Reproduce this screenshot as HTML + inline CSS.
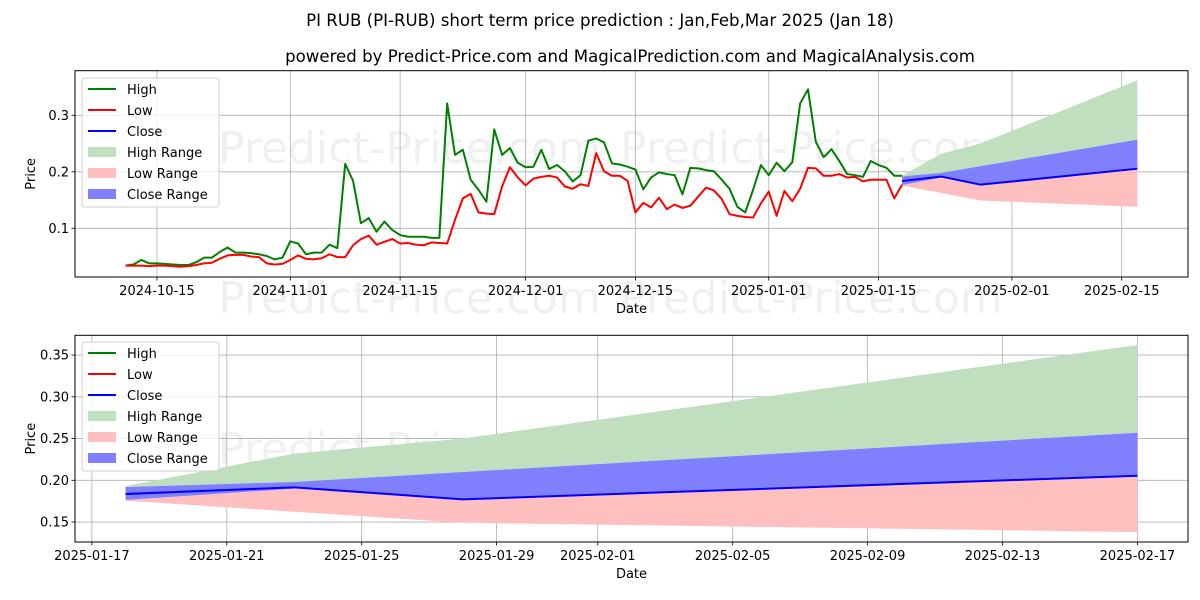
<!DOCTYPE html>
<html><head><meta charset="utf-8">
<style>
html,body{margin:0;padding:0;background:#fff;}
svg{display:block;font-family:"DejaVu Sans","Liberation Sans",sans-serif;}
</style></head>
<body>
<svg id="chart" width="1200" height="600" viewBox="0 0 1200 600" xmlns="http://www.w3.org/2000/svg">
<rect width="1200" height="600" fill="#fff"/>
<text x="600" y="26" text-anchor="middle" font-size="16.6">PI RUB (PI-RUB) short term price prediction : Jan,Feb,Mar 2025 (Jan 18)</text>
<text x="630" y="62" text-anchor="middle" font-size="16.6">powered by Predict-Price.com and MagicalPrediction.com and MagicalAnalysis.com</text>
<g id="top"></g>
<g id="bot"></g>
</svg>
<script>
const histStart = '2024-10-11';
const histHigh = [.034,.036,.044,.038,.038,.037,.036,.035,.035,.040,.048,.048,.058,.066,.057,.057,.056,.054,.051,.045,.048,.077,.073,.054,.057,.057,.071,.065,.214,.184,.109,.118,.094,.112,.097,.088,.085,
.085,.085,.083,.083,.321,.230,.239,.186,.168,.147,.275,.230,.242,.216,.208,.209,.239,.205,.212,.201,.183,.194,.255,.259,.252,.215,.213,.209,.204,.169,.190,.199,.196,.194,.160,
.207,.206,.203,.201,.186,.170,.138,.128,.168,.212,.194,.216,.201,.217,.321,.346,.253,.226,.240,.219,.196,.194,.191,.219,.212,.207,.193,.193];
const histLow = [.034,.034,.034,.033,.034,.034,.033,.032,.033,.035,.038,.039,.046,.052,.053,.053,.050,.049,.038,.036,.037,.044,.052,.046,.045,.047,.054,.049,.049,.070,.081,.087,.071,.076,.081,.073,.074,
.071,.070,.075,.074,.073,.115,.153,.161,.128,.126,.125,.174,.208,.190,.176,.188,.191,.193,.190,.174,.170,.178,.175,.233,.201,.193,.193,.184,.128,.145,.137,.154,.134,.142,.136,
.140,.156,.172,.167,.152,.125,.122,.120,.119,.144,.165,.122,.166,.148,.170,.207,.206,.193,.193,.196,.190,.191,.183,.186,.186,.186,.153,.177];
const fcDates = ['2025-01-18','2025-01-23','2025-01-28','2025-02-17'];
const fcClose = [.1836,.1916,.1772,.2055];
const fcHighUp = [.193,.232,.250,.362];
const fcCloseUp = [.192,.198,.210,.257];
const fcCloseLo = [.1764,.190,.1765,.2045];
const fcLowLo = [.1756,.1624,.1492,.138];
const topYTicks = [0.1,0.2,0.3];
const topXTicks = ['2024-10-15','2024-11-01','2024-11-15','2024-12-01','2024-12-15','2025-01-01','2025-01-15','2025-02-01','2025-02-15'];
const botYTicks = [0.15,0.20,0.25,0.30,0.35];
const botXTicks = ['2025-01-17','2025-01-21','2025-01-25','2025-01-29','2025-02-01','2025-02-05','2025-02-09','2025-02-13','2025-02-17'];

const NS='http://www.w3.org/2000/svg';
const DAY=86400000;
const T=s=>Date.parse(s+'T00:00:00Z');
function mk(parent,tag,attrs){const e=document.createElementNS(NS,tag);for(const k in attrs)e.setAttribute(k,attrs[k]);parent.appendChild(e);return e;}
const histDates = histHigh.map((_,i)=>T(histStart)+i*DAY);

function panel(g,cfg){
  const {L,R,Tp,B,x,y}=cfg;
  cfg.marks.forEach(m=>{const t=mk(g,'text',{x:m[0],y:m[1],'font-size':44,fill:'#000','fill-opacity':0.06});t.textContent='Predict-Price.com';
    
    });
  cfg.xt.forEach(d=>{const X=x(T(d));const l=mk(g,'line',{x1:X,x2:X,y1:Tp,y2:B,stroke:'#b0b0b0','stroke-width':0.8});
    
    
    mk(g,'line',{x1:X,x2:X,y1:B,y2:B+3.5,stroke:'#000','stroke-width':0.8});
    const t=mk(g,'text',{x:X,y:B+18,'text-anchor':'middle','font-size':13});t.textContent=d;
    
    });
  cfg.yt.forEach(v=>{const Y=y(v);const l=mk(g,'line',{x1:L,x2:R,y1:Y,y2:Y,stroke:'#b0b0b0','stroke-width':0.8});
    
    
    mk(g,'line',{x1:L-3.5,x2:L,y1:Y,y2:Y,stroke:'#000','stroke-width':0.8});
    const t=mk(g,'text',{x:L-6,y:Y+4.5,'text-anchor':'end','font-size':13});t.textContent=cfg.fmt(v);
    
    });
  const band=(up,lo,col,name)=>{let d='';fcDates.forEach((s,i)=>{d+=(i?'L':'M')+x(T(s))+','+y(up[i]);});
    for(let i=fcDates.length-1;i>=0;i--)d+='L'+x(T(fcDates[i]))+','+y(lo[i]);
    const p=mk(g,'path',{d:d+'Z',fill:col});
    
    };
  band(fcHighUp,fcCloseUp,'#bfdfbf','high-range-band');
  band(fcCloseLo,fcLowLo,'#ffbfbf','low-range-band');
  band(fcCloseUp,fcCloseLo,'#8080ff','close-range-band');
  const line=(dates,vals,col,name)=>{const pts=vals.map((v,i)=>x(dates[i])+','+y(v)).join(' ');
    const p=mk(g,'polyline',{points:pts,fill:'none',stroke:col,'stroke-width':2,'stroke-linejoin':'round'});
    
    };
  if(cfg.hist){line(histDates,histHigh,'#008000','high-line');line(histDates,histLow,'#ff0000','low-line');}
  line(fcDates.map(T),fcClose,'#0000ff','close-line');
  mk(g,'rect',{x:L,y:Tp,width:R-L,height:B-Tp,fill:'none',stroke:'#000','stroke-width':1});
  const xl=mk(g,'text',{x:(L+R)/2,y:B+36,'text-anchor':'middle','font-size':13});xl.textContent='Date';
  
  
  const cy=(Tp+B)/2;
  const yl=mk(g,'text',{x:35,y:cy,'text-anchor':'middle','font-size':13,transform:`rotate(-90 35 ${cy})`});yl.textContent='Price';
  
  
  const lg=mk(g,'g',{});
  
  
  const ly=cfg.legY;
  mk(lg,'rect',{x:82,y:ly,width:137,height:129,rx:3,fill:'#fff','fill-opacity':0.8,stroke:'#d0d0d0'});
  const items=[['High','#008000',0],['Low','#ff0000',0],['Close','#0000ff',0],['High Range','#bfdfbf',1],['Low Range','#ffbfbf',1],['Close Range','#8080ff',1]];
  items.forEach((it,i)=>{const yy=ly+11+i*21;
    if(it[2])mk(lg,'rect',{x:88,y:yy-5,width:28,height:10,fill:it[1]});
    else mk(lg,'line',{x1:88,x2:116,y1:yy,y2:yy,stroke:it[1],'stroke-width':2});
    const t=mk(lg,'text',{x:127,y:yy+5,'font-size':13});t.textContent=it[0];
    
    });
}
const tT0=T(histStart)-6.45*DAY, tT1=T('2025-02-17')+6.45*DAY;
panel(document.getElementById('top'),{L:75,R:1188,Tp:70.7,B:277,hist:true,
  x:t=>75+(t-tT0)/(tT1-tT0)*1113, y:v=>228.3-(v-0.1)*565,
  xt:topXTicks, yt:topYTicks, fmt:v=>v.toFixed(1), legY:78,
  marks:[[218,163],[620,163],[218,313],[620,313]]});
const bT0=T('2025-01-18')-1.5*DAY, bT1=T('2025-02-17')+1.5*DAY;
panel(document.getElementById('bot'),{L:75,R:1188,Tp:335.3,B:542,hist:false,
  x:t=>75+(t-bT0)/(bT1-bT0)*1113, y:v=>480.3-(v-0.2)*835,
  xt:botXTicks, yt:botYTicks, fmt:v=>v.toFixed(2), legY:342,
  marks:[[218,464],[620,464]]});
</script>
</body></html>
